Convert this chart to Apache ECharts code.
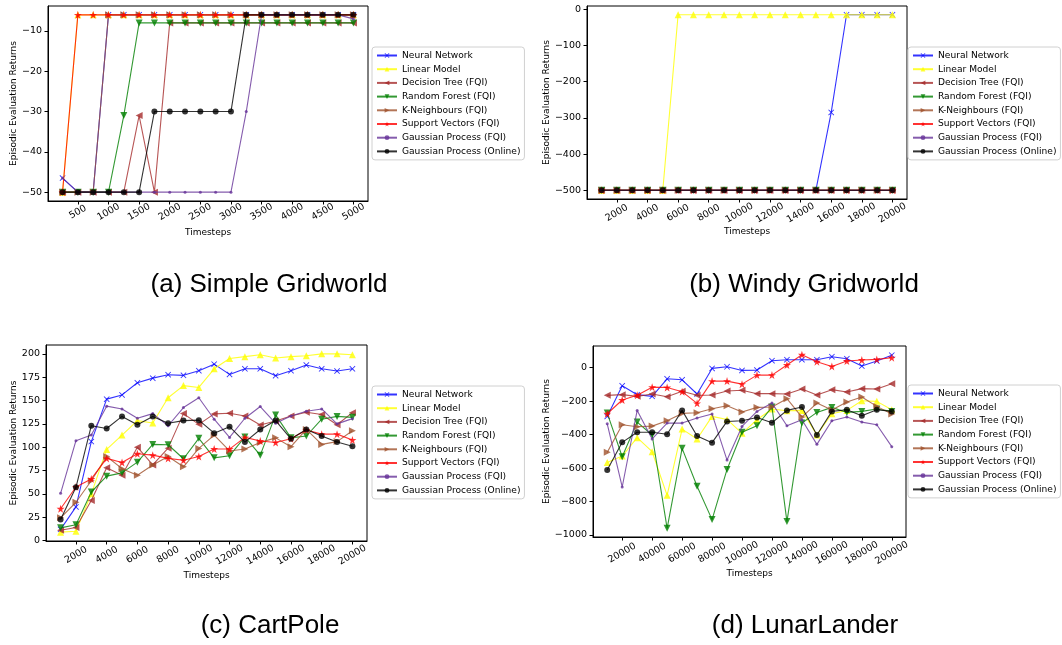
<!DOCTYPE html>
<html>
<head>
<meta charset="utf-8">
<script src="https://cdn.jsdelivr.net/npm/echarts@6/dist/echarts.min.js"></script>
<style>
  html, body { margin: 0; padding: 0; background: #fff; }
  #chart { width: 1062px; height: 645px; }
</style>
</head>
<body>
<div id="chart"></div>
<script>
// method names, same order in every panel
const methods = ['Neural Network', 'Linear Model', 'Decision Tree (FQI)', 'Random Forest (FQI)',
  'K-Neighbours (FQI)', 'Support Vectors (FQI)', 'Gaussian Process (FQI)', 'Gaussian Process (Online)'];

// (a) Simple Gridworld
const simpleSteps = [250, 500, 750, 1000, 1250, 1500, 1750, 2000, 2250, 2500, 2750, 3000, 3250, 3500, 3750, 4000, 4250, 4500, 4750, 5000];
const simpleNN = [-46.5, -50, -50, -6, -6, -6, -6, -6, -6, -6, -6, -6, -6, -6, -6, -6, -6, -6, -6, -6];
const simpleLinear = [-50, -6, -6, -6, -6, -6, -6, -6, -6, -6, -6, -6, -6, -6, -6, -6, -6, -6, -6, -6];
const simpleDT = [-50, -50, -50, -50, -50, -31, -50, -8, -8, -8, -8, -8, -8, -8, -8, -8, -8, -8, -8, -8];
const simpleRF = [-50, -50, -50, -50, -31, -8, -8, -8, -8, -8, -8, -8, -8, -8, -8, -8, -8, -8, -8, -8];
const simpleKN = [-50, -50, -50, -6, -6, -6, -6, -6, -6, -6, -6, -6, -6, -6, -6, -6, -6, -6, -6, -6];
const simpleSV = [-50, -6, -6, -6, -6, -6, -6, -6, -6, -6, -6, -6, -6, -6, -6, -6, -6, -6, -6, -6];
const simpleGPF = [-46.5, -50, -50, -50, -50, -50, -50, -50, -50, -50, -50, -50, -30, -6, -6, -6, -6, -6, -6, -7];
const simpleGPO = [-50, -50, -50, -50, -50, -50, -30, -30, -30, -30, -30, -30, -6, -6, -6, -6, -6, -6, -6, -6];
const simpleXTicks = [500, 1000, 1500, 2000, 2500, 3000, 3500, 4000, 4500, 5000];
const simpleYTicks = [-50, -40, -30, -20, -10];

// (b) Windy Gridworld
const windySteps = [1000, 2000, 3000, 4000, 5000, 6000, 7000, 8000, 9000, 10000, 11000, 12000, 13000, 14000, 15000, 16000, 17000, 18000, 19000, 20000];
const windyNN = [-500, -500, -500, -500, -500, -500, -500, -500, -500, -500, -500, -500, -500, -500, -500, -285, -15, -15, -15, -15];
const windyLinear = [-500, -500, -500, -500, -500, -15, -15, -15, -15, -15, -15, -15, -15, -15, -15, -15, -15, -15, -15, -15];
const windyDT = [-500, -500, -500, -500, -500, -500, -500, -500, -500, -500, -500, -500, -500, -500, -500, -500, -500, -500, -500, -500];
const windyRF = [-500, -500, -500, -500, -500, -500, -500, -500, -500, -500, -500, -500, -500, -500, -500, -500, -500, -500, -500, -500];
const windyKN = [-500, -500, -500, -500, -500, -500, -500, -500, -500, -500, -500, -500, -500, -500, -500, -500, -500, -500, -500, -500];
const windySV = [-500, -500, -500, -500, -500, -500, -500, -500, -500, -500, -500, -500, -500, -500, -500, -500, -500, -500, -500, -500];
const windyGPF = [-500, -500, -500, -500, -500, -500, -500, -500, -500, -500, -500, -500, -500, -500, -500, -500, -500, -500, -500, -500];
const windyGPO = [-500, -500, -500, -500, -500, -500, -500, -500, -500, -500, -500, -500, -500, -500, -500, -500, -500, -500, -500, -500];
const windyXTicks = [2000, 4000, 6000, 8000, 10000, 12000, 14000, 16000, 18000, 20000];
const windyYTicks = [-500, -400, -300, -200, -100, 0];

// (c) CartPole
const cartSteps = [1000, 2000, 3000, 4000, 5000, 6000, 7000, 8000, 9000, 10000, 11000, 12000, 13000, 14000, 15000, 16000, 17000, 18000, 19000, 20000];
const cartNN = [12, 36, 106, 151.5, 156, 169, 174, 177.7, 177, 182, 189, 178, 184, 184, 176.6, 182, 188, 184, 181.6, 184];
const cartLinear = [9, 10, 50, 97.6, 113, 128.5, 126, 153, 166, 164, 184, 195, 197, 199, 195.6, 197, 198, 200, 200, 199];
const cartDT = [11, 14, 43, 78, 70, 100, 81, 99, 136, 124.5, 135.7, 136.4, 133.5, 123.8, 128, 133.5, 137.5, 135, 124, 137];
const cartRF = [13.6, 17, 52, 69, 72.5, 84, 103, 102.6, 87.6, 109.5, 88.6, 90.8, 111, 91.5, 134.6, 110, 112, 130, 133, 132];
const cartKN = [24.4, 41, 64, 90, 77, 70, 81, 90, 79, 98.7, 113, 96, 98, 105, 110, 100.5, 119, 103, 106, 117.7];
const cartSV = [34, 57.4, 66, 88, 83.6, 93, 91.5, 88, 86, 90, 98, 98, 110.5, 106.6, 105, 109, 118.5, 114, 114, 107.7];
const cartGPF = [50.6, 107, 113, 144, 141, 131, 136, 123, 142.5, 153, 130, 110.5, 131, 143.6, 125.6, 133.5, 138.5, 141, 125, 130.6];
const cartGPO = [22.6, 57, 123, 120, 133, 124, 133, 125.6, 128.5, 129, 115, 122, 105.5, 119, 128.5, 109, 119, 112, 105.5, 101];
const cartXTicks = [2000, 4000, 6000, 8000, 10000, 12000, 14000, 16000, 18000, 20000];
const cartYTicks = [0, 25, 50, 75, 100, 125, 150, 175, 200];

// (d) LunarLander
const lunarSteps = [10000, 20000, 30000, 40000, 50000, 60000, 70000, 80000, 90000, 100000, 110000, 120000, 130000, 140000, 150000, 160000, 170000, 180000, 190000, 200000];
const lunarNN = [-291, -108, -161, -171, -66, -72, -157, -4, 6, -16, -14, 42, 48, 48, 48, 66, 54, 10, 40, 75];
const lunarLinear = [-566, -528, -418, -502, -763, -367, -426, -291, -309, -392, -311, -247, -257, -255, -402, -275, -255, -197, -201, -251];
const lunarDT = [-165, -161, -171, -157, -173, -141, -165, -163, -139, -135, -155, -155, -157, -127, -163, -131, -145, -125, -127, -96];
const lunarRF = [-271, -532, -325, -402, -960, -482, -709, -908, -608, -386, -347, -235, -920, -331, -267, -237, -267, -261, -247, -261];
const lunarKN = [-506, -341, -353, -349, -317, -273, -269, -245, -227, -265, -237, -235, -185, -295, -211, -253, -205, -175, -231, -277];
const lunarSV = [-275, -193, -165, -116, -118, -143, -213, -80, -80, -98, -44, -44, 16, 78, 36, 8, 40, 46, 50, 60];
const lunarGPF = [-335, -713, -255, -426, -331, -331, -301, -277, -552, -351, -261, -211, -347, -311, -458, -317, -295, -325, -341, -472];
const lunarGPO = [-612, -446, -386, -386, -398, -255, -408, -448, -321, -317, -297, -329, -255, -235, -402, -261, -251, -287, -251, -261];
const lunarXTicks = [20000, 40000, 60000, 80000, 100000, 120000, 140000, 160000, 180000, 200000];
const lunarYTicks = [-1000, -800, -600, -400, -200, 0];

const FONT = 'DejaVu Sans';
const colors = ['#0000ff', '#ffff00', '#a52a2a', '#008000', '#a0522d', '#ff0000', '#663399', '#000000'];
const crossPath = 'path://M0,1L1,0L5,4L9,0L10,1L6,5L10,9L9,10L5,6L1,10L0,9L4,5Z';
const starPath = 'path://M5,0L6.18,3.6L10,3.6L6.9,5.9L8.1,9.5L5,7.3L1.9,9.5L3.1,5.9L0,3.6L3.82,3.6Z';
const symbols = [crossPath, 'triangle', 'triangle', 'triangle', 'triangle', starPath, 'circle', 'circle'];
const rotations = [0, 0, 90, 180, -90, 0, 0, 0];
const sizes = [6, 7, 7, 7, 7, 8, 3, 6];

const minus = v => (v < 0 ? '\u2212' + Math.abs(v) : String(v));

const panels = [
  { steps: simpleSteps, ys: [simpleNN, simpleLinear, simpleDT, simpleRF, simpleKN, simpleSV, simpleGPF, simpleGPO],
    xt: simpleXTicks, yt: simpleYTicks, xr: [12.5, 5237.5], yr: [-52.2, -3.8],
    box: [48, 6, 320, 195], legend: [372, 47], title: '(a) Simple Gridworld', tpos: [269, 272],
    yGap: 25, xGap: 27, lm: 11 },
  { steps: windySteps, ys: [windyNN, windyLinear, windyDT, windyRF, windyKN, windySV, windyGPF, windyGPO],
    xt: windyXTicks, yt: windyYTicks, xr: [50, 20950], yr: [-524.25, 9.25],
    box: [587, 6, 320, 193], legend: [908, 47], title: '(b) Windy Gridworld', tpos: [804, 272],
    yGap: 28, xGap: 28, lm: 14 },
  { steps: cartSteps, ys: [cartNN, cartLinear, cartDT, cartRF, cartKN, cartSV, cartGPF, cartGPO],
    xt: cartXTicks, yt: cartYTicks, xr: [50, 20950], yr: [-0.5, 209.5],
    box: [46, 345, 321, 196], legend: [372, 386], title: '(c) CartPole', tpos: [270, 613],
    yGap: 22, xGap: 30, lm: 14 },
  { steps: lunarSteps, ys: [lunarNN, lunarLinear, lunarDT, lunarRF, lunarKN, lunarSV, lunarGPF, lunarGPO],
    xt: lunarXTicks, yt: lunarYTicks, xr: [500, 209500], yr: [-1012, 130],
    box: [593, 346, 313, 191], legend: [908, 385], title: '(d) LunarLander', tpos: [805, 613],
    yGap: 33, xGap: 31, lm: 16 }
];

const grid = [], xAxis = [], yAxis = [], series = [], legend = [], title = [];

panels.forEach((p, gi) => {
  grid.push({ left: p.box[0], top: p.box[1], width: p.box[2], height: p.box[3],
    show: true, borderColor: '#000', borderWidth: 1, backgroundColor: 'transparent' });
  xAxis.push({
    type: 'value', gridIndex: gi, min: p.xr[0], max: p.xr[1],
    name: 'Timesteps', nameLocation: 'middle', nameGap: p.xGap,
    nameTextStyle: { fontFamily: FONT, fontSize: 9, color: '#000' },
    axisLine: { show: true, onZero: false, lineStyle: { color: '#000', width: 1 } },
    axisTick: { show: true, length: 3.5, customValues: p.xt, lineStyle: { color: '#000' } },
    axisLabel: { customValues: p.xt, rotate: 30, align: 'center', verticalAlign: 'middle', margin: p.lm,
      fontFamily: FONT, fontSize: 9.5, color: '#000', formatter: v => String(v) },
    splitLine: { show: false }
  });
  yAxis.push({
    type: 'value', gridIndex: gi, min: p.yr[0], max: p.yr[1],
    name: 'Episodic Evaluation Returns', nameLocation: 'middle', nameGap: p.yGap,
    nameTextStyle: { fontFamily: FONT, fontSize: 9, color: '#000' },
    axisLine: { show: true, onZero: false, lineStyle: { color: '#000', width: 1 } },
    axisTick: { show: true, length: 3.5, customValues: p.yt, lineStyle: { color: '#000' } },
    axisLabel: { customValues: p.yt, margin: 6, fontFamily: FONT, fontSize: 9.5, color: '#000', formatter: minus },
    splitLine: { show: false }
  });
  p.ys.forEach((vals, k) => {
    series.push({
      type: 'line', name: methods[k], xAxisIndex: gi, yAxisIndex: gi,
      data: p.steps.map((x, i) => [x, vals[i]]),
      symbol: symbols[k], symbolSize: sizes[k], symbolRotate: rotations[k], showAllSymbol: true,
      lineStyle: { color: colors[k], width: 1.1, opacity: 0.8 },
      itemStyle: { color: colors[k], opacity: 0.8 },
      emphasis: { disabled: true }, animation: false, z: 2 + k
    });
  });
  legend.push({
    orient: 'vertical', left: p.legend[0], top: p.legend[1], data: methods,
    itemWidth: 20, itemHeight: 6, itemGap: 2.7, padding: [3, 4, 3, 4],
    borderColor: '#d0d0d0', borderWidth: 1, borderRadius: 3, backgroundColor: '#fff',
    selectedMode: false,
    textStyle: { fontFamily: FONT, fontSize: 9.1, color: '#000', lineHeight: 11 }
  });
  title.push({ text: p.title, left: p.tpos[0], top: p.tpos[1], textAlign: 'center', padding: 0,
    textStyle: { fontFamily: 'Liberation Sans', fontSize: 26, fontWeight: 'normal', color: '#000' } });
});

const chart = echarts.init(document.getElementById('chart'), null, { renderer: 'canvas' });
chart.setOption({ animation: false, backgroundColor: '#fff', title, grid, xAxis, yAxis, legend, series });
</script>
</body>
</html>
